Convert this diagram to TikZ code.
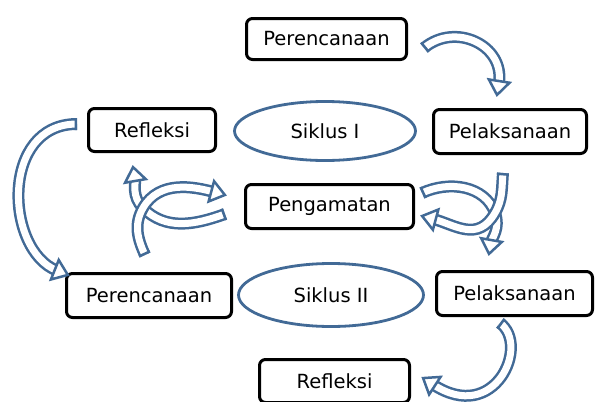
\documentclass[tikz,border=0pt]{standalone}
\usepackage{fontspec}
\setmainfont{DejaVu Sans}
\usetikzlibrary{shapes.geometric,decorations.markings}
\definecolor{cycleblue}{RGB}{66,106,150}
\tikzset{
    node_text/.style = {align=center, inner sep=0pt, text centered, font=\fontsize{19.5}{22}\selectfont},
    node_box/.style = {node_text, rectangle, rounded corners=6pt, draw=black, line width=3pt, fill=white},
    node_cycle/.style = {node_text, ellipse, draw=cycleblue, line width=2.8pt},
    arrow_block/.style = {draw=white, line width=7pt, shorten >=12pt,
        preaction = {draw=cycleblue, line width=12pt, shorten >=12pt},
        postaction = {decorate, decoration={markings,
            mark=at position 0 with {\draw[cycleblue, line width=2.5pt, shorten >=0pt] (1.2,-6) -- (1.2,6);},
            mark=at position 0.999 with {\draw[cycleblue, fill=white, line width=2.5pt, shorten >=0pt, line join=miter] (-14,-10.5) -- (0,0) -- (-14,10.5) -- cycle;}}}}
}
\begin{document}
\begin{tikzpicture}[x=1pt, y=1pt]
    \useasboundingbox (0,0) rectangle (595,-402);
    % siklus I
    \node [node_box, minimum width=160pt, minimum height=41pt] (plan1) at (326.5,-39) {Perencanaan};
    \node [node_box, minimum width=153pt, minimum height=44pt] (act1) at (510,-131.5) {Pelaksanaan};
    \node [node_box, minimum width=168pt, minimum height=44pt] (obs) at (329.5,-206.5) {Pengamatan};
    \node [node_box, minimum width=127pt, minimum height=43pt] (refl1) at (152,-130) {Refleksi};
    \node [node_cycle, minimum width=181pt, minimum height=59pt] (cyc1) at (325,-131) {Siklus I};
    % siklus II
    \node [node_box, minimum width=165pt, minimum height=44pt] (plan2) at (149,-295.5) {Perencanaan};
    \node [node_cycle, minimum width=185pt, minimum height=63pt] (cyc2) at (331,-295) {Siklus II};
    \node [node_box, minimum width=156pt, minimum height=44pt] (act2) at (514.5,-293.5) {Pelaksanaan};
    \node [node_box, minimum width=150pt, minimum height=43pt] (refl2) at (334.5,-381) {Refleksi};
    % where the curved arrows cross
    \coordinate (cross_l) at (143,-208);
    \coordinate (cross_r) at (495,-213);

    \draw [arrow_block] ([shift={(16,-9)}]plan1.east) .. controls +(31,26) and +(8,50) .. ([shift={(-13,13)}]act1.north);
    % crossing arrows right
    \draw [arrow_block] ([shift={(7,13.5)}]obs.east) to[out=25, in=110] (cross_r) to[out=-70, in=80] ([shift={(-25.5,16)}]act2.north);
    \draw [arrow_block] ([shift={(-7,-18)}]act1.south) to[out=-95, in=60] (cross_r) to[out=240, in=-15, looseness=1.2] ([shift={(7,-9.5)}]obs.east);
    % crossing arrows left
    \draw [arrow_block] ([shift={(-19,-7.5)}]obs.west) to[out=200, in=315] (cross_l) to[out=135, in=-80] ([shift={(-19,-14)}]refl1.south);
    \draw [arrow_block] ([shift={(-4,17)}]plan2.north) to[out=115, in=240] (cross_l) to[out=60, in=165] ([shift={(-19,11.5)}]obs.west);
    % siklus II
    \draw [arrow_block] ([shift={(-10,6)}]refl1.west) .. controls +(-77,0) and +(-63,25) .. ([shift={(3,-3)}]plan2.north west);
    \draw [arrow_block] ([shift={(-14.5,-6)}]act2.south) .. controls +(30,-22) and +(72,-47) .. ([shift={(12,3)}]refl2.east);
\end{tikzpicture}
\end{document}
